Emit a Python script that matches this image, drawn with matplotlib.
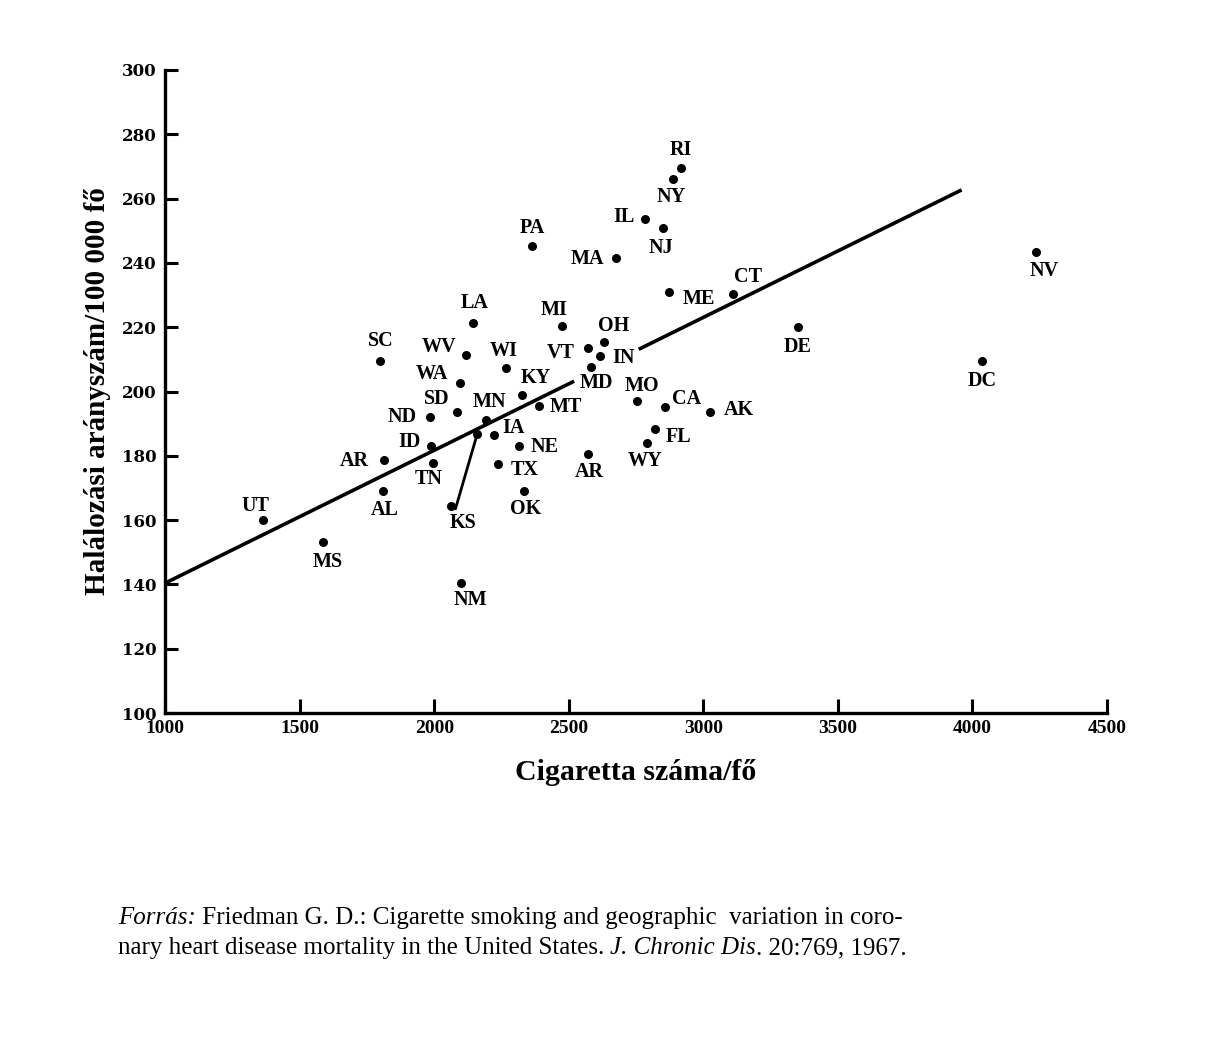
import matplotlib
matplotlib.use('Agg')
import matplotlib.pyplot as plt

# Adatok (leolvasva az eredeti ábráról)
states = ['UT', 'MS', 'AR', 'AL', 'ID', 'ND', 'SD', 'WA', 'SC', 'WV', 'LA', 'TN',
          'KS', '', 'NM', 'MN', 'IA', 'NE', 'TX', 'OK', 'WI', 'KY', 'MT', 'MI',
          'PA', 'VT', 'OH', 'IN', 'MD', 'AR', 'MA', 'IL', 'NJ', 'NY', 'RI', 'ME',
          'CT', 'MO', 'CA', 'AK', 'FL', 'WY', 'DE', 'DC', 'NV']
cigs = [1365, 1585, 1813, 1810, 1989, 1983, 2083, 2095, 1797, 2117, 2145, 1995,
        2061, 2160, 2098, 2194, 2222, 2316, 2238, 2334, 2268, 2325, 2390, 2475,
        2365, 2570, 2632, 2616, 2582, 2570, 2677, 2783, 2852, 2886, 2917, 2874,
        3109, 2752, 2859, 3025, 2819, 2789, 3352, 4036, 4235]
deaths = [160.0, 153.1, 178.7, 169.2, 183.0, 192.2, 193.7, 202.7, 209.6, 211.4, 221.4, 177.9,
          164.4, 186.8, 140.3, 191.1, 186.5, 183.1, 177.4, 169.2, 207.4, 198.9, 195.5, 220.3,
          245.3, 213.4, 215.3, 211.0, 207.7, 180.6, 241.6, 253.7, 250.7, 266.0, 269.4, 231.0,
          230.3, 197.0, 195.1, 193.7, 188.3, 183.9, 220.2, 209.6, 243.5]

# Regressziós egyenes (két szakasz, MD és IN között megszakad)
reg_intercept = 140.4
reg_slope = 0.04132
reg_segments = [(1000, 2520), (2760, 3960)]

x_ticks = [1000, 1500, 2000, 2500, 3000, 3500, 4000, 4500]
y_ticks = [100, 120, 140, 160, 180, 200, 220, 240, 260, 280, 300]

# Címkék eltolása a ponthoz képest (pt)
offsets = [(-6, 10), (4, -14), (-21, -1), (1, -14), (-16, 3), (-20, 0), (-14, 9), (-20, 6),
           (1, 14), (-19, 6), (1, 14), (-3, -12), (9, -12), (0, 0), (7, -12), (2, 13),
           (14, 5), (18, -1), (19, -4), (1, -13), (-2, 12), (10, 12), (19, -1), (-6, 12),
           (0, 13), (-19, -3), (7, 12), (17, -1), (4, -12), (1, -13), (-21, -1), (-15, 1),
           (-2, -14), (-1, -13), (0, 13), (21, -5), (11, 12), (4, 11), (15, 6), (21, 1),
           (17, -6), (-1, -13), (0, -15), (0, -15), (6, -14)]

serif = ['Liberation Serif', 'DejaVu Serif']
heavy = ['DejaVu Serif', 'Liberation Serif']

fig = plt.figure(figsize=(12.32, 10.4), dpi=100)
ax = fig.add_axes([0.134, 0.3144, 0.7645, 0.6183])

ax.scatter(cigs, deaths, s=30, color='black', zorder=3)

for a, b in reg_segments:
    ax.plot([a, b], [reg_intercept + reg_slope * (a - 1000), reg_intercept + reg_slope * (b - 1000)],
            color='black', linewidth=2.6, solid_capstyle='butt')

for name, x, y, (dx, dy) in zip(states, cigs, deaths, offsets):
    if not name:
        continue
    ax.annotate(name, (x, y), xytext=(dx, dy), textcoords='offset points',
                ha='center', va='center', fontsize=14.5, fontweight='bold', family=serif)

# KS vezetővonal
ks = cigs[states.index('KS')]
ax.annotate('', xy=(cigs[13], deaths[13]), xytext=(ks + 18, 163.5),
            arrowprops=dict(arrowstyle='-', color='black', lw=2, shrinkA=0, shrinkB=0))

ax.set_xlim(1000, 4500)
ax.set_ylim(100, 300)
ax.set_xticks(x_ticks)
ax.set_yticks(y_ticks)
for s in ['top', 'right']:
    ax.spines[s].set_visible(False)
for s in ['left', 'bottom']:
    ax.spines[s].set_linewidth(2.4)
ax.tick_params(axis='both', direction='in', width=2.2)
ax.tick_params(axis='x', length=10, pad=5, labelsize=14)
ax.tick_params(axis='y', length=9, pad=6, labelsize=12)
for lab in ax.get_xticklabels():
    lab.set_fontweight('bold')
    lab.set_family(serif)
for lab in ax.get_yticklabels():
    lab.set_fontweight('bold')
    lab.set_family(heavy)

ax.set_xlabel('Cigaretta száma/fő', fontsize=21.5, fontweight='bold', family=serif, labelpad=16)
ax.set_ylabel('Halálozási arányszám/100 000 fő', fontsize=21, fontweight='bold', family=serif, labelpad=8)

# Forrás
fs = 18
t1 = fig.text(118 / 1232, 1 - 924 / 1040, 'Forrás:', fontsize=fs, style='italic', family=serif)
ax.annotate(' Friedman G. D.: Cigarette smoking and geographic  variation in coro-',
            xy=(1, 0), xycoords=t1, va='bottom', fontsize=fs, family=serif, annotation_clip=False)
t3 = fig.text(118 / 1232, 1 - 954 / 1040, 'nary heart disease mortality in the United States. ',
              fontsize=fs, family=serif)
t4 = ax.annotate('J. Chronic Dis', xy=(1, 0), xycoords=t3, va='bottom', fontsize=fs,
                 style='italic', family=serif, annotation_clip=False)
ax.annotate('. 20:769, 1967.', xy=(1, 0), xycoords=t4, va='bottom', fontsize=fs,
            family=serif, annotation_clip=False)

fig.savefig('out.png', dpi=100)
